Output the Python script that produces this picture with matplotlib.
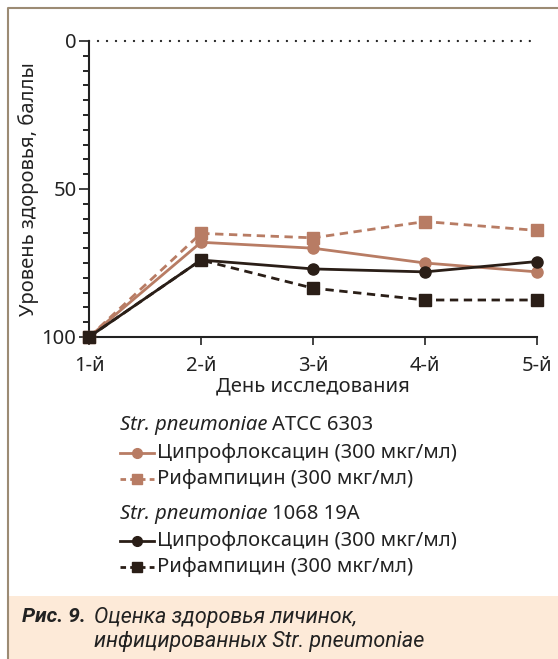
import matplotlib
matplotlib.use("Agg")
import matplotlib.pyplot as plt
from matplotlib.lines import Line2D
from matplotlib.patches import Rectangle

plt.rcParams['font.family'] = ['Noto Sans', 'DejaVu Sans']

days = ['1-й', '2-й', '3-й', '4-й', '5-й']
x = [1, 2, 3, 4, 5]

# Str. pneumoniae ATCC 6303
atcc_cipro = [100, 68, 70, 75, 78]
atcc_rif = [100, 65, 66.5, 61, 64]
# Str. pneumoniae 1068 19A
s19a_cipro = [100, 74, 77, 78, 74.5]
s19a_rif = [100, 74, 83.5, 87.5, 87.5]

strain_titles = ['ATCC 6303', '1068 19A']
drug_labels = ['Ципрофлоксацин (300 мкг/мл)', 'Рифампицин (300 мкг/мл)']

copper = '#B87C64'
dark = '#2A1E17'
txt = '#222222'
fs = 14.5
W, H = 558, 659

fig = plt.figure(figsize=(W / 100, H / 100), dpi=100)
ax = fig.add_axes([89 / W, 1 - 337 / H, (537 - 89) / W, (337 - 41) / H])

ax.plot(x, atcc_cipro, color=copper, lw=2, marker='o', ms=8, clip_on=False, zorder=3)
ax.plot(x, atcc_rif, color=copper, lw=2, ls=(0, (3, 2)), marker='s', ms=8, clip_on=False, zorder=3)
ax.plot(x, s19a_cipro, color=dark, lw=2, marker='o', ms=8, clip_on=False, zorder=4)
ax.plot(x, s19a_rif, color=dark, lw=2, ls=(0, (3, 2)), marker='s', ms=8, clip_on=False, zorder=4)

# dotted reference line at 0
ax.axhline(0, color=txt, lw=1.7, ls=(0, (0.01, 3.8)), dash_capstyle='round', clip_on=False)

ax.set_xlim(1, 5)
ax.set_ylim(100, 0)
ax.set_xticks(x)
ax.set_xticklabels(days)
ax.set_yticks([0, 50, 100])
ax.set_yticks(range(0, 101, 5), minor=True)
ax.tick_params(axis='both', labelsize=fs, color=txt, labelcolor=txt)
ax.tick_params(axis='y', which='major', length=7, width=1.2, pad=2)
ax.tick_params(axis='y', which='minor', length=4, width=1.2)
ax.tick_params(axis='x', length=6, width=1.2, pad=8)
ax.spines['right'].set_visible(False)
ax.spines['top'].set_visible(False)
for s in ['left', 'bottom']:
    ax.spines[s].set_linewidth(1.5)
    ax.spines[s].set_color(txt)
ax.set_xlabel('День исследования', fontsize=fs, color=txt, labelpad=0)
ax.set_ylabel('Уровень здоровья, баллы', fontsize=fs, color=txt, labelpad=2)

# legend drawn manually
renderer = fig.canvas.get_renderer()
rows = [(425, 'title', 0), (453, 'cipro', copper), (479, 'rif', copper),
        (514, 'title', 1), (541, 'cipro', dark), (567, 'rif', dark)]
for y, kind, arg in rows:
    fy = 1 - y / H
    if kind == 'title':
        t = fig.text(120 / W, fy, 'Str. pneumoniae', fontsize=fs, style='italic',
                     va='center', color=txt)
        bb = t.get_window_extent(renderer)
        fig.text(bb.x1 / W + 5 / W, fy, strain_titles[arg], fontsize=fs,
                 va='center', color=txt)
    else:
        ls = '-' if kind == 'cipro' else (0, (2, 1.5))
        mk = 'o' if kind == 'cipro' else 's'
        fig.add_artist(Line2D([120 / W, 137 / W, 154 / W], [fy, fy, fy], color=arg,
                              lw=2, ls=ls, marker=mk, ms=7, markevery=[1],
                              transform=fig.transFigure))
        fig.text(157 / W, fy, drug_labels[0 if kind == 'cipro' else 1], fontsize=fs,
                 va='center', color=txt)

# frame and caption
fig.add_artist(Rectangle((8 / W, 0), 1, 63 / H, transform=fig.transFigure,
                         facecolor='#FDEAD8', edgecolor='none', zorder=0))
fig.add_artist(Line2D([8 / W, 8 / W, 1], [0, 1 - 8 / H, 1 - 8 / H], color='#9C8B74',
                      lw=1.5, transform=fig.transFigure))
capfont = ['Roboto', 'DejaVu Sans']
fig.text(22 / W, 1 - 617 / H, 'Рис. 9.', fontsize=15, style='italic', weight='bold',
         va='center', color=txt, family=capfont)
fig.text(94 / W, 1 - 617 / H, 'Оценка здоровья личинок,', fontsize=15.5,
         style='italic', va='center', color=txt, family=capfont)
fig.text(94 / W, 1 - 641 / H, 'инфицированных Str. pneumoniae', fontsize=15.5,
         style='italic', va='center', color=txt, family=capfont)

fig.savefig('out.png', dpi=100)
